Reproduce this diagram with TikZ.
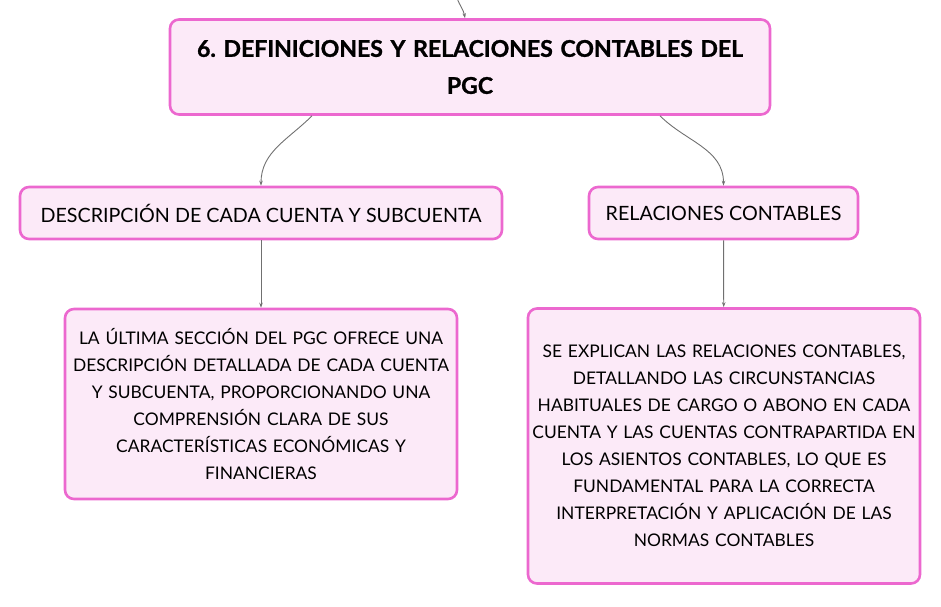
\documentclass[tikz,border=0pt]{standalone}
\usepackage{fontspec}
\setmainfont{Lato}
\newfontfamily\headfont{Lato}[FakeBold=1.2]
\usetikzlibrary{arrows.meta}
\frenchspacing

\definecolor{pinkline}{HTML}{EC68CF}
\definecolor{pinkfill}{HTML}{FCEAF8}
\definecolor{linkgray}{HTML}{707070}

\tikzstyle{mainbox} = [rectangle, rounded corners=9pt, line width=2.6pt, draw=pinkline, fill=pinkfill, text centered, inner sep=0pt]
\tikzstyle{topic} = [mainbox, font=\headfont\bfseries\fontsize{23}{37}\selectfont, minimum width=600pt, minimum height=95pt, text width=590pt]
\tikzstyle{subtopic} = [mainbox, font=\fontsize{19.7}{22}\selectfont, minimum height=52pt]
\tikzstyle{detail} = [mainbox, font=\fontsize{17.4}{27}\selectfont, minimum width=392pt]
\tikzstyle{arrow} = [linkgray, line width=0.9pt, -{Stealth[length=5pt,width=3.5pt]}]

\begin{document}
\begin{tikzpicture}[x=1pt, y=-1pt]
\useasboundingbox (0,0) rectangle (941,606);

\node (defs) [topic] at (470,67) {6. DEFINICIONES Y RELACIONES CONTABLES DEL\\PGC};
\node (desc) [subtopic, minimum width=482pt] at (261,213) {DESCRIPCIÓN DE CADA CUENTA Y SUBCUENTA};
\node (rel) [subtopic, minimum width=269pt] at (723.5,213) {RELACIONES CONTABLES};
\node (desctext) [detail, minimum height=190pt, text width=390pt] at (261,404) {LA ÚLTIMA SECCIÓN DEL PGC OFRECE UNA\\DESCRIPCIÓN DETALLADA DE CADA CUENTA\\Y SUBCUENTA, PROPORCIONANDO UNA\\COMPRENSIÓN CLARA DE SUS\\CARACTERÍSTICAS ECONÓMICAS Y\\FINANCIERAS};
\node (reltext) [detail, minimum height=275pt, text width=390pt] at (724,446) {SE EXPLICAN LAS RELACIONES CONTABLES,\\DETALLANDO LAS CIRCUNSTANCIAS\\HABITUALES DE CARGO O ABONO EN CADA\\CUENTA Y LAS CUENTAS CONTRAPARTIDA EN\\LOS ASIENTOS CONTABLES, LO QUE ES\\FUNDAMENTAL PARA LA CORRECTA\\INTERPRETACIÓN Y APLICACIÓN DE LAS\\NORMAS CONTABLES};

\coordinate (parent) at (457,-2);

\draw [arrow] (parent) to[out=-70, in=100] ([xshift=-5pt]defs.north);
\draw [arrow] ([xshift=-158pt]defs.south) to[out=-135, in=90] (desc.north);
\draw [arrow] ([xshift=190pt]defs.south) to[out=-45, in=90] (rel.north);
\draw [arrow] (desc) -- (desctext);
\draw [arrow] (rel) -- (reltext);

\end{tikzpicture}
\end{document}
